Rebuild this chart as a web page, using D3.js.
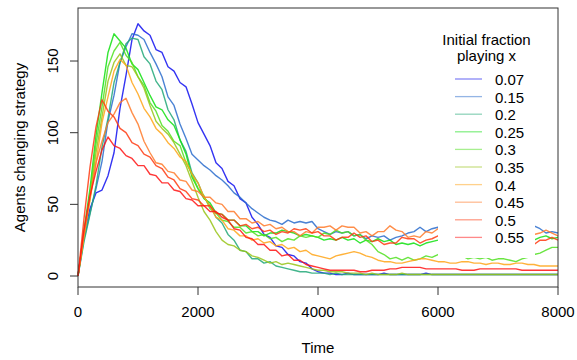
<!DOCTYPE html>
<html>
<head>
<meta charset="utf-8">
<script src="https://cdn.jsdelivr.net/npm/d3@7"></script>
<style>
  body { margin: 0; background: #fff; }
  text { font-family: "Liberation Sans", Arial, sans-serif; font-size: 15px; fill: #000; }
</style>
</head>
<body>
<div id="chart"></div>
<script>
var width = 577, height = 360;

// time steps, one value every 100
var times = d3.range(0, 8001, 100);

var fractions = ["0.07", "0.15", "0.2", "0.25", "0.3", "0.35", "0.4", "0.45", "0.5", "0.55"];
var colors = ["#1010f0", "#2a6ccc", "#22a878", "#10e010", "#50e020", "#98c418", "#ffa418", "#ff7a2a", "#ff3a10", "#ff1414"];

var xTicks = [0, 2000, 4000, 6000, 8000];
var yTicks = [0, 50, 100, 150];

var s007 = [0,30,47,58,60,70,86,117,140,165,176,171,168,158,156,146,143,135,132,120,
  107,99,91,79,75,66,63,54,51,41,36,29,27,21,20,15,14,10,9,5,
  3,2,2,1,1,2,1,1,1,1,1,2,1,1,1,1,1,1,2,1,
  1,1,1,1,1,1,1,1,1,1,1,1,1,1,1,1,1,1,1,1,1];
var s015 = [0,26,44,61,80,108,126,149,160,169,168,165,156,148,139,125,119,106,96,85,
  81,77,74,70,67,63,58,55,51,47,44,41,39,38,36,39,37,38,37,38,
  33,31,29,31,30,31,28,29,26,28,27,28,25,27,28,30,31,34,31,33,
  34,32,33,32,34,33,31,33,35,32,33,32,34,33,35,34,35,33,30,31,30];
var s020 = [0,24,43,63,90,110,135,149,162,166,165,153,148,136,130,116,109,95,87,72,
  65,55,49,41,37,29,25,18,17,12,12,9,10,7,6,5,4,3,3,2,
  2,2,1,2,1,1,1,1,1,1,1,1,1,1,1,1,1,1,1,1,
  1,1,1,1,1,1,1,1,1,1,1,1,1,1,1,1,1,1,1,1,1];
var s025 = [0,32,61,98,128,156,169,164,159,148,144,135,126,118,116,109,105,95,85,69,
  61,54,51,44,43,39,39,35,35,31,31,28,30,30,32,31,30,28,29,28,
  27,25,26,25,27,25,26,23,25,24,26,24,25,22,23,22,23,21,23,24,
  25,27,25,26,24,25,24,26,25,27,25,24,26,25,25,26,25,27,28,26,27];
var s030 = [0,30,57,92,118,146,157,163,154,149,139,133,121,115,105,101,94,91,79,71,
  61,56,47,44,39,38,34,34,30,31,28,29,26,27,24,26,25,28,27,28,
  27,30,29,32,30,31,28,29,25,22,17,15,12,13,11,13,11,12,14,13,
  15,14,15,13,14,12,13,12,13,11,12,12,11,10,12,13,15,16,18,20,20];
var s035 = [0,28,54,86,111,136,149,155,147,146,139,131,119,108,103,99,93,85,77,66,
  55,45,39,31,25,22,21,18,17,14,13,11,9,10,8,9,8,7,6,5,
  4,4,3,3,3,2,2,2,1,2,1,1,1,1,2,1,1,1,1,1,
  1,1,1,1,1,1,1,1,1,1,1,1,1,1,1,1,1,1,1,1,1];
var s040 = [0,28,53,79,107,125,143,151,147,135,127,117,111,103,99,93,89,83,80,71,
  65,55,49,41,39,33,32,28,28,25,26,23,24,21,22,19,20,17,18,15,
  14,13,12,14,15,16,17,16,14,13,11,10,10,9,9,10,11,12,12,11,
  10,10,9,9,10,10,9,9,8,9,9,8,8,9,9,8,8,7,7,7,7];
var s045 = [0,30,55,79,94,107,113,121,124,114,106,94,86,79,78,73,72,67,66,60,
  59,55,55,51,50,45,45,40,40,37,38,35,36,33,34,31,31,28,31,30,
  34,34,35,32,35,34,34,30,31,28,31,31,35,32,31,27,28,27,31,30,
  33,31,30,30,29,30,31,30,29,30,30,29,30,29,28,26,29,30,32,30,28];
var s050 = [0,40,76,104,123,115,111,103,100,93,91,85,83,77,75,69,67,61,59,54,
  53,49,49,44,43,39,39,35,36,33,34,31,32,29,31,30,33,32,33,30,
  31,28,28,25,27,27,30,27,28,24,25,22,23,23,27,26,26,23,25,26,
  28,27,26,25,24,25,26,25,24,25,24,25,24,25,24,24,22,25,25,27,25];
var s055 = [0,32,56,73,88,97,91,89,84,82,77,77,71,70,65,65,60,59,54,53,
  49,49,45,45,41,39,33,32,27,26,22,22,18,18,14,15,11,11,8,7,
  6,5,4,4,4,4,4,3,3,4,4,4,5,5,6,6,6,6,5,5,
  5,5,5,5,4,4,4,5,5,5,5,5,5,5,4,4,4,4,4,4,4];

var series = [s007, s015, s020, s025, s030, s035, s040, s045, s050, s055];

var margin = {left: 78, right: 19, top: 8, bottom: 73};

var x = d3.scaleLinear().domain([0, 8000]).range([margin.left, width - margin.right]);
var y = d3.scaleLinear().domain([-7.67, 187]).range([height - margin.bottom, margin.top]);

var svg = d3.select("#chart").append("svg")
  .attr("width", width)
  .attr("height", height);

var line = d3.line()
  .x(function(d, i) { return x(times[i]); })
  .y(function(d) { return y(d); });

// lines
var plot = svg.append("g").attr("id", "plot");
series.forEach(function(s, i) {
  plot.append("path")
    .datum(s)
    .attr("d", line)
    .attr("fill", "none")
    .attr("stroke", colors[i])
    .attr("stroke-width", 1.4)
    .attr("stroke-opacity", 0.85)
    .attr("stroke-linejoin", "round");
});

// box
svg.append("rect")
  .attr("x", x(0))
  .attr("y", margin.top)
  .attr("width", x(8000) - x(0))
  .attr("height", height - margin.bottom - margin.top)
  .attr("fill", "none")
  .attr("stroke", "#333")
  .attr("stroke-width", 1);

// x axis
var xAxis = svg.append("g")
  .attr("transform", "translate(0," + (height - margin.bottom) + ")");
xTicks.forEach(function(t) {
  xAxis.append("line")
    .attr("x1", x(t)).attr("x2", x(t))
    .attr("y1", 0).attr("y2", 8)
    .attr("stroke", "#333");
  xAxis.append("text")
    .attr("x", x(t))
    .attr("y", 30)
    .attr("text-anchor", "middle")
    .text(t);
});

// y axis
var yAxis = svg.append("g")
  .attr("transform", "translate(" + x(0) + ",0)");
yTicks.forEach(function(t) {
  yAxis.append("line")
    .attr("x1", -8).attr("x2", 0)
    .attr("y1", y(t)).attr("y2", y(t))
    .attr("stroke", "#333");
  yAxis.append("text")
    .attr("transform", "translate(-20," + y(t) + ") rotate(-90)")
    .attr("text-anchor", "middle")
    .text(t);
});

svg.append("text")
  .attr("x", (x(0) + x(8000)) / 2)
  .attr("y", 353)
  .attr("text-anchor", "middle")
  .text("Time");

svg.append("text")
  .attr("transform", "translate(25," + ((margin.top + height - margin.bottom) / 2) + ") rotate(-90)")
  .attr("text-anchor", "middle")
  .text("Agents changing strategy");

// legend, white box hides lines behind it
var legend = svg.append("g");
legend.append("rect")
  .attr("x", 438).attr("y", 22)
  .attr("width", 97).attr("height", 236)
  .attr("fill", "#fff");

legend.append("text")
  .attr("x", 486.5).attr("y", 45)
  .attr("text-anchor", "middle")
  .text("Initial fraction");
legend.append("text")
  .attr("x", 486.5).attr("y", 61)
  .attr("text-anchor", "middle")
  .text("playing x");

fractions.forEach(function(f, i) {
  var ly = 79 + i * 17.6;
  legend.append("line")
    .attr("x1", 455).attr("x2", 482)
    .attr("y1", ly).attr("y2", ly)
    .attr("stroke", colors[i])
    .attr("stroke-width", 1.3)
    .attr("stroke-opacity", 0.5);
  legend.append("text")
    .attr("x", 495)
    .attr("y", ly + 6)
    .text(f);
});
</script>
</body>
</html>
